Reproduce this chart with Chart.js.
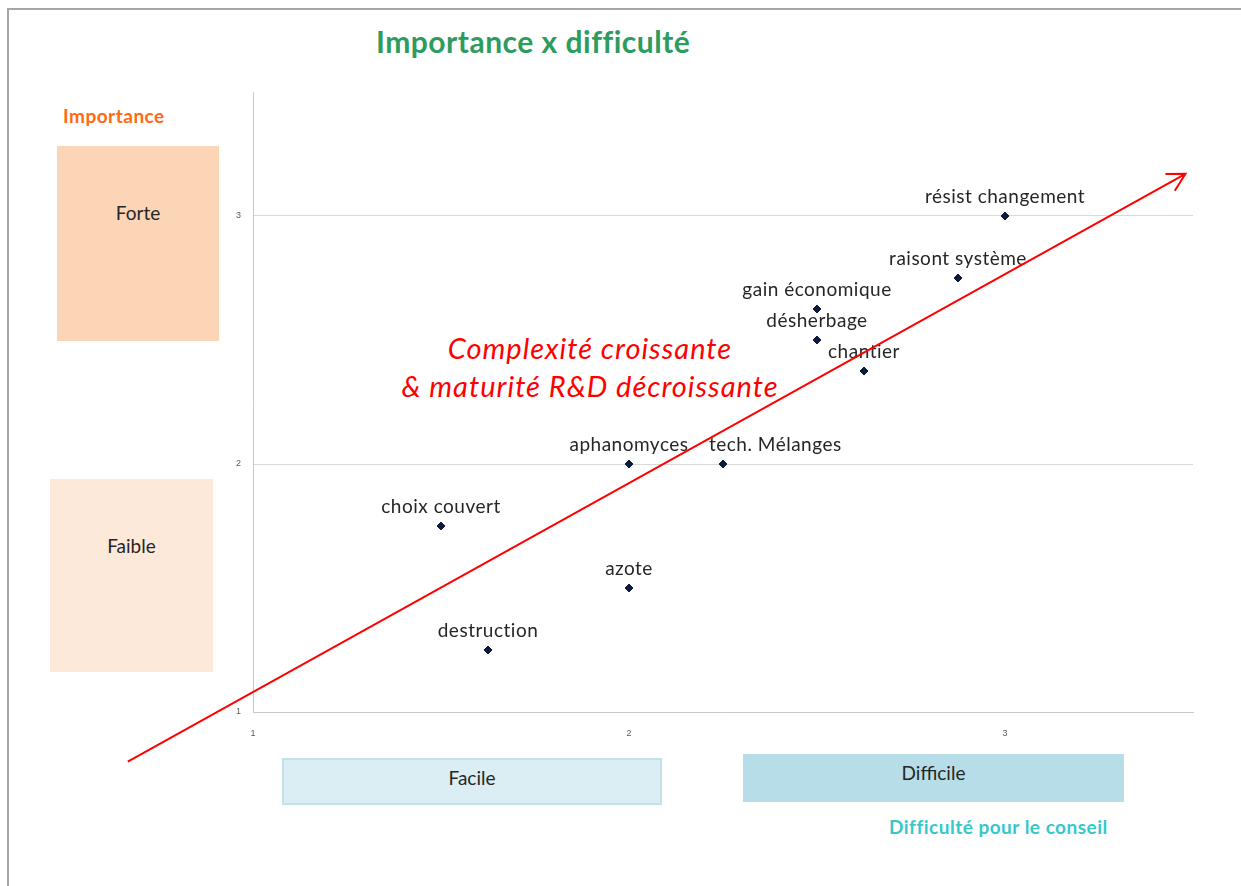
<!DOCTYPE html>
<html>
<head>
<meta charset="utf-8">
<script src="https://cdn.jsdelivr.net/npm/chart.js@4"></script>
<style>
  body { margin: 0; background: #fff; font-family: Lato, "Open Sans", sans-serif; }
  #wrap { position: relative; width: 1241px; height: 886px; overflow: hidden; }
  #frame { position: absolute; left: 7px; top: 8px; right: 0; bottom: 0;
           border-top: 2px solid #a6a6a6; border-left: 2px solid #a6a6a6; }
  .box { position: absolute; display: flex; justify-content: center; color: #262626; font-size: 19px; }
  .txt { position: absolute; white-space: nowrap; }
  canvas { position: absolute; left: 0; top: 0; }
</style>
</head>
<body>
<div id="wrap">
  <div id="frame"></div>
  <div class="txt" style="left:376px;top:23px;font-size:30px;letter-spacing:0.5px;font-weight:bold;color:#2e9b5f;">Importance x difficulté</div>
  <div class="txt" style="left:63px;top:104px;font-size:19px;letter-spacing:0.5px;font-weight:bold;color:#ff6a10;">Importance</div>
  <div class="box" style="left:57px;top:146px;width:162px;height:195px;background:#fbd5b5;padding-top:55px;box-sizing:border-box;">Forte</div>
  <div class="box" style="left:50px;top:479px;width:163px;height:193px;background:#fde9d9;padding-top:55px;box-sizing:border-box;">Faible</div>
  <div class="box" style="left:282px;top:758px;width:380px;height:47px;background:#daeef3;border:2px solid #c2e2ea;padding-top:6px;box-sizing:border-box;">Facile</div>
  <div class="box" style="left:743px;top:754px;width:381px;height:48px;background:#b7dee8;padding-top:7px;box-sizing:border-box;">Difficile</div>
  <div class="txt" style="left:889px;top:815px;font-size:19px;letter-spacing:0.5px;font-weight:bold;color:#36c8c8;">Difficulté pour le conseil</div>
  <div class="txt" style="left:390px;top:329px;width:400px;text-align:center;font-size:29px;letter-spacing:1px;font-style:italic;color:#ff0000;line-height:38px;">Complexité croissante<br>&amp; maturité R&amp;D décroissante</div>
  <canvas id="chart" width="1241" height="886"></canvas>
</div>
<script>
// Données
const labels = ['résist changement', 'raisont système', 'gain économique', 'désherbage', 'chantier',
  'aphanomyces', 'tech. Mélanges', 'choix couvert', 'azote', 'destruction'];
const difficulte = [3, 2.875, 2.5, 2.5, 2.625, 2, 2.25, 1.5, 2, 1.625];
const importance = [3, 2.75, 2.625, 2.5, 2.375, 2, 2, 1.75, 1.5, 1.25];
const tickValues = [1, 2, 3];
const arrowFrom = [0.667, 0.8];
const arrowTo = [3.48, 3.17];

const points = difficulte.map((x, i) => ({ x: x, y: importance[i] }));

// labels au-dessus des points
const pointLabels = {
  id: 'pointLabels',
  afterDatasetsDraw(chart) {
    const ctx = chart.ctx;
    const meta = chart.getDatasetMeta(0);
    ctx.save();
    ctx.font = '19px Lato, "Open Sans", sans-serif';
    ctx.letterSpacing = '0.5px';
    ctx.fillStyle = '#262626';
    ctx.textBaseline = 'middle';
    meta.data.forEach((pt, i) => {
      if (labels[i] === 'tech. Mélanges') {
        ctx.textAlign = 'left';
        ctx.fillText(labels[i], pt.x - 14, pt.y - 19);
      } else {
        ctx.textAlign = 'center';
        ctx.fillText(labels[i], pt.x, pt.y - 19);
      }
    });
    ctx.restore();
  }
};

// flèche rouge
const arrow = {
  id: 'arrow',
  afterDraw(chart) {
    const xs = chart.scales.x, ys = chart.scales.y;
    const x1 = xs.getPixelForValue(arrowFrom[0]), y1 = ys.getPixelForValue(arrowFrom[1]);
    const x2 = xs.getPixelForValue(arrowTo[0]), y2 = ys.getPixelForValue(arrowTo[1]);
    const ctx = chart.ctx;
    const a = Math.atan2(y2 - y1, x2 - x1);
    const len = 20;
    ctx.save();
    ctx.strokeStyle = '#ff0000';
    ctx.lineWidth = 2;
    ctx.beginPath();
    ctx.moveTo(x1, y1);
    ctx.lineTo(x2, y2);
    ctx.moveTo(x2 - len * Math.cos(a - 0.5), y2 - len * Math.sin(a - 0.5));
    ctx.lineTo(x2, y2);
    ctx.lineTo(x2 - len * Math.cos(a + 0.5), y2 - len * Math.sin(a + 0.5));
    ctx.stroke();
    ctx.restore();
  }
};

new Chart(document.getElementById('chart'), {
  type: 'scatter',
  data: {
    datasets: [{
      data: points,
      pointStyle: 'rectRot',
      pointRadius: 4,
      backgroundColor: '#0d1b3d',
      borderColor: '#0d1b3d',
      borderWidth: 1
    }]
  },
  options: {
    responsive: false,
    animation: false,
    layout: { padding: { left: 0, top: 92, right: 48, bottom: 0 } },
    plugins: { legend: { display: false }, tooltip: { enabled: false } },
    scales: {
      x: {
        min: 1, max: 3.5,
        afterBuildTicks: axis => { axis.ticks = tickValues.map(v => ({ value: v })); },
        afterFit: scale => { scale.height = 174; },
        grid: { display: false },
        border: { display: true, color: '#c8c8c8', width: 1 },
        ticks: { color: '#595959', font: { size: 9 }, padding: 8, maxRotation: 0 }
      },
      y: {
        min: 1, max: 3.5,
        afterBuildTicks: axis => { axis.ticks = tickValues.map(v => ({ value: v })); },
        afterFit: scale => { scale.width = 253; },
        grid: { color: '#d9d9d9', drawTicks: false },
        border: { display: true, color: '#c8c8c8', width: 1 },
        ticks: { color: '#595959', font: { size: 9 }, padding: 12 }
      }
    }
  },
  plugins: [pointLabels, arrow]
});
</script>
</body>
</html>
